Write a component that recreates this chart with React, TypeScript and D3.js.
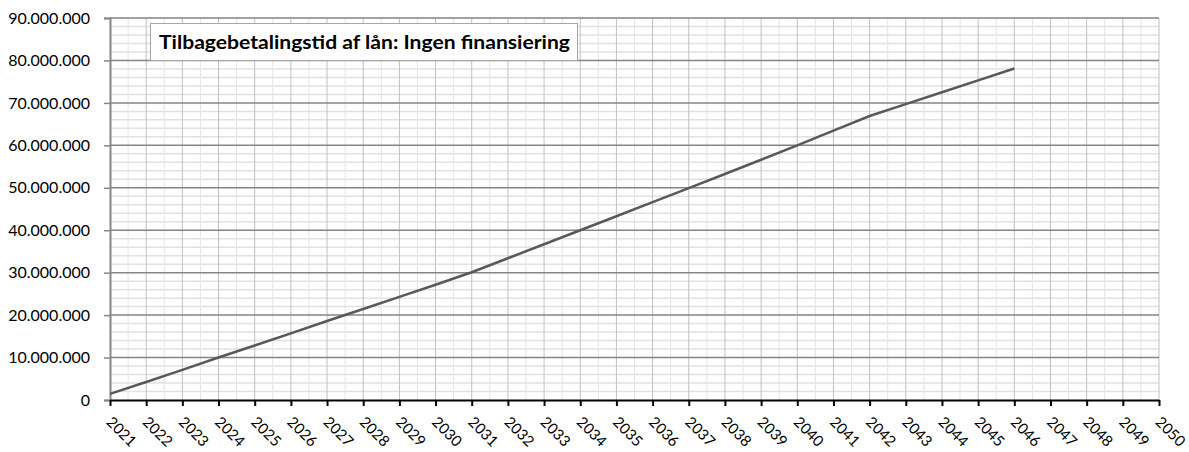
import React, { useEffect, useRef } from 'react'
import * as d3 from 'd3'

// axis categories
const years = [2021, 2022, 2023, 2024, 2025, 2026, 2027, 2028, 2029, 2030,
  2031, 2032, 2033, 2034, 2035, 2036, 2037, 2038, 2039, 2040,
  2041, 2042, 2043, 2044, 2045, 2046, 2047, 2048, 2049, 2050]

// series: cumulative repayment per year (kr)
const dataYears = [2021, 2022, 2023, 2024, 2025, 2026, 2027, 2028, 2029, 2030,
  2031, 2032, 2033, 2034, 2035, 2036, 2037, 2038, 2039, 2040,
  2041, 2042, 2043, 2044, 2045, 2046]
const repaid = [1450000, 4250000, 7100000, 10000000, 12850000, 15700000, 18600000, 21450000, 24300000, 27150000,
  30100000, 33400000, 36700000, 40000000, 43300000, 46600000, 49900000, 53250000, 56600000, 60000000,
  63450000, 66900000, 69700000, 72500000, 75300000, 78100000]

const yTicks = [0, 10000000, 20000000, 30000000, 40000000, 50000000, 60000000, 70000000, 80000000, 90000000]
const chartTitle = 'Tilbagebetalingstid af lån: Ingen finansiering'

const W = 1189
const H = 452
const FONT = 'Lato, "Open Sans", sans-serif'

function App() {
  const svgRef = useRef<SVGSVGElement>(null)

  useEffect(() => {
    const svg = d3.select(svgRef.current)
    svg.selectAll('*').remove()

    const x = d3.scaleLinear().domain([2021, 2050]).range([110, 1159])
    const y = d3.scaleLinear().domain([0, 90000000]).range([400, 18])

    const da = d3.formatLocale({ decimal: ',', thousands: '.', grouping: [3], currency: ['', ''] })
    const fmt = da.format(',d')

    const grid = svg.append('g')

    // minor horizontal lines every 2 mio
    const minorY = d3.range(0, 90000001, 2000000).filter(v => v % 10000000 !== 0)
    grid.selectAll('.hminor').data(minorY).join('line')
      .attr('x1', x(2021)).attr('x2', x(2050))
      .attr('y1', d => y(d)).attr('y2', d => y(d))
      .attr('stroke', '#e1e1e1').attr('stroke-width', 1.5)

    // minor vertical lines at half-years
    const minorX = years.slice(0, -1).map(d => d + 0.5)
    grid.selectAll('.vminor').data(minorX).join('line')
      .attr('x1', d => x(d)).attr('x2', d => x(d))
      .attr('y1', y(0)).attr('y2', y(90000000))
      .attr('stroke', '#e4e4e4').attr('stroke-width', 1)

    // year lines
    grid.selectAll('.vmajor').data(years.slice(1)).join('line')
      .attr('x1', d => x(d)).attr('x2', d => x(d))
      .attr('y1', y(0)).attr('y2', y(90000000))
      .attr('stroke', '#c0c0c0').attr('stroke-width', 1)

    // major horizontal lines
    grid.selectAll('.hmajor').data(yTicks.slice(1)).join('line')
      .attr('x1', x(2021)).attr('x2', x(2050))
      .attr('y1', d => y(d)).attr('y2', d => y(d))
      .attr('stroke', '#858585').attr('stroke-width', 1.5)

    // y axis
    const yAxis = d3.axisLeft(y).tickValues(yTicks).tickSize(6).tickPadding(14).tickFormat(d => fmt(d as number))
    const gy = svg.append('g').attr('transform', `translate(${x(2021)},0)`).call(yAxis)
    gy.select('.domain').attr('stroke', '#868686').attr('stroke-width', 2)
    gy.selectAll('.tick line').attr('stroke', '#868686').attr('stroke-width', 1.5)
    gy.selectAll('.tick text').attr('font-family', FONT).attr('font-size', 16).attr('fill', '#000')

    // x axis
    const xAxis = d3.axisBottom(x).tickValues(years).tickSizeInner(6).tickSizeOuter(0).tickFormat(d => String(d))
    const gx = svg.append('g').attr('transform', `translate(0,${y(0)})`).call(xAxis)
    gx.select('.domain').attr('stroke', '#000').attr('stroke-width', 2)
    gx.selectAll('.tick line').attr('stroke', '#000').attr('stroke-width', 2)
    gx.selectAll('.tick text')
      .attr('font-family', FONT).attr('font-size', 15).attr('fill', '#000')
      .attr('text-anchor', 'start').attr('y', 0).attr('dy', 0)
      .attr('transform', 'translate(-5,23) rotate(45)')

    // line
    const line = d3.line<number>()
      .x((d, i) => x(dataYears[i]))
      .y(d => y(d))
    svg.append('path')
      .datum(repaid)
      .attr('d', line)
      .attr('fill', 'none')
      .attr('stroke', '#595959')
      .attr('stroke-width', 2.5)

    // title box
    const tg = svg.append('g')
    tg.append('rect')
      .attr('x', 150.5).attr('y', 23.5).attr('width', 427).attr('height', 37)
      .attr('fill', '#fff').attr('stroke', '#a6a6a6').attr('stroke-width', 1)
    tg.append('text')
      .attr('x', 159).attr('y', 49)
      .attr('font-family', FONT).attr('font-size', 18).attr('font-weight', 'bold')
      .attr('textLength', 411).attr('lengthAdjust', 'spacingAndGlyphs')
      .text(chartTitle)
  }, [])

  return (
    <svg ref={svgRef} width={W} height={H}
      style={{ position: 'absolute', left: 0, top: 0, background: '#fff' }} />
  )
}

export default App
